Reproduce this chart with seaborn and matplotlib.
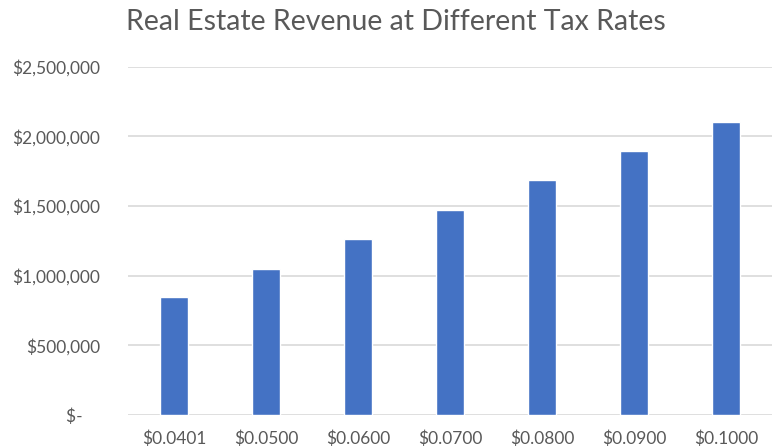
import matplotlib.pyplot as plt
import pandas as pd
import seaborn as sns
from matplotlib.ticker import FuncFormatter

sns.set_theme(style="white")
plt.rcParams['font.family'] = ['Lato', 'DejaVu Sans']

tax_rates = ["$0.0401", "$0.0500", "$0.0600", "$0.0700", "$0.0800", "$0.0900", "$0.1000"]
revenue = [845000, 1050000, 1265000, 1475000, 1685000, 1895000, 2105000]

y_ticks = [0, 500000, 1000000, 1500000, 2000000, 2500000]


def money(v, pos):
    if v == 0:
        return "$-    "
    return "${:,.0f}".format(v)


if __name__ == "__main__":
    df = pd.DataFrame({"rate": tax_rates, "revenue": revenue})

    fig = plt.figure(figsize=(7.72, 4.48), dpi=100)
    ax = fig.add_axes([128 / 772, 33 / 448, 644 / 772, 348.3 / 448])

    sns.barplot(x="rate", y="revenue", data=df, color="#4472C4", saturation=1,
                width=0.3, ax=ax)

    ax.set_ylim(0, 2500000)
    ax.set_xlim(-0.5, 6.5)
    ax.set_yticks(y_ticks)
    ax.yaxis.set_major_formatter(FuncFormatter(money))
    ax.grid(axis="y", color="#D9D9D9", linewidth=1.2)
    ax.set_axisbelow(True)
    for s in ax.spines.values():
        s.set_visible(False)
    ax.set_xlabel("")
    ax.set_ylabel("")
    ax.tick_params(axis="y", length=0, pad=20, labelsize=12.5, labelcolor="#595959")
    ax.tick_params(axis="x", length=0, pad=11, labelsize=12.5, labelcolor="#595959")

    fig.text(396 / 772, 1 - 22 / 448, "Real Estate Revenue at Different Tax Rates",
             ha="center", va="center", fontsize=20.5, color="#595959")

    fig.savefig("out.png", dpi=100)
